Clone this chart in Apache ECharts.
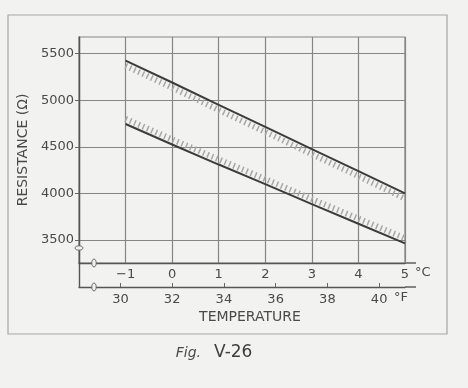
<!DOCTYPE html>
<html><head><meta charset="utf-8">
<script src="https://cdn.jsdelivr.net/npm/echarts@6/dist/echarts.min.js"></script>
<style>html,body{margin:0;padding:0;background:#f2f2f0}#c{width:468px;height:388px}</style>
</head><body><div id="c"></div>
<script>
// Data
const celsius = [-1, 0, 1, 2, 3, 4, 5];
const upperOhm = [5425, 5190, 4950, 4715, 4475, 4240, 4000];
const lowerOhm = [4745, 4525, 4310, 4100, 3885, 3675, 3465];
const yTicks = [3500, 4000, 4500, 5000, 5500];
const fTicks = [30, 32, 34, 36, 38, 40];
const yName = 'RESISTANCE (Ω)';
const xName = 'TEMPERATURE';

const Y_MIN = 3254, Y_MAX = 5678, HATCH = 55;
const FONT = 'DejaVu Sans';
const INK = '#4a4a4a', GRIDC = '#858585';

const pairs = arr => celsius.map((c, i) => [c, arr[i]]);

const chart = echarts.init(document.getElementById('c'), null, {renderer: 'canvas'});
chart.setOption({
  backgroundColor: '#f2f2f0',
  animation: false,
  textStyle: {fontFamily: FONT, color: INK},
  grid: [
    {left: 79, top: 37, width: 326, height: 226, show: true, borderColor: GRIDC, borderWidth: 1.2, containLabel: false},
    {left: 79, top: 263, width: 326, height: 24, containLabel: false}
  ],
  xAxis: [
    {
      type: 'value', gridIndex: 0, min: -2, max: 5, interval: 1,
      axisLine: {show: true, onZero: false, lineStyle: {color: '#555', width: 1.4}},
      axisTick: {show: false},
      splitLine: {show: true, lineStyle: {color: GRIDC, width: 1.2}},
      axisLabel: {
        margin: 5, fontSize: 13, color: INK, fontFamily: FONT,
        formatter: v => v === -2 ? '' : (v < 0 ? '\u2212' + Math.abs(v) : String(v))
      }
    },
    {
      type: 'value', gridIndex: 1, min: 28.4, max: 41,
      axisLine: {show: true, onZero: false, lineStyle: {color: '#555', width: 1.4}},
      axisTick: {show: true, inside: true, length: 4, customValues: fTicks, lineStyle: {color: '#666'}},
      splitLine: {show: false},
      axisLabel: {margin: 6, fontSize: 13, color: INK, fontFamily: FONT, customValues: fTicks, formatter: v => String(v)}
    }
  ],
  yAxis: [
    {
      type: 'value', gridIndex: 0, min: Y_MIN, max: Y_MAX,
      axisLine: {show: true, onZero: false, lineStyle: {color: '#555', width: 1.4}},
      axisTick: {show: true, length: 4, customValues: yTicks, lineStyle: {color: '#666'}},
      splitLine: {show: true, lineStyle: {color: GRIDC, width: 1.2}},
      axisLabel: {margin: 5, fontSize: 13, color: INK, fontFamily: FONT, customValues: yTicks, formatter: v => String(v)},
      name: yName, nameLocation: 'middle', nameGap: 48, nameRotate: 90,
      nameTextStyle: {fontSize: 14, color: INK, fontFamily: FONT}
    },
    {
      type: 'value', gridIndex: 1, min: 0, max: 1,
      axisLine: {show: true, onZero: false, lineStyle: {color: '#555', width: 1.4}},
      axisTick: {show: false}, axisLabel: {show: false}, splitLine: {show: false}
    },
    {type: 'value', gridIndex: 0, show: false, min: Y_MIN + HATCH, max: Y_MAX + HATCH, splitLine: {show: false}},
    {type: 'value', gridIndex: 0, show: false, min: Y_MIN - HATCH, max: Y_MAX - HATCH, splitLine: {show: false}}
  ],
  series: [
    {
      type: 'line', xAxisIndex: 0, yAxisIndex: 2, data: pairs(upperOhm), symbol: 'none', z: 2,
      lineStyle: {color: '#a6a6a6', width: 6, type: [1.5, 3.2]}
    },
    {
      type: 'line', xAxisIndex: 0, yAxisIndex: 3, data: pairs(lowerOhm), symbol: 'none', z: 2,
      lineStyle: {color: '#a6a6a6', width: 6, type: [1.5, 3.2]}
    },
    {
      type: 'line', xAxisIndex: 0, yAxisIndex: 0, data: pairs(upperOhm), symbol: 'none', z: 3,
      lineStyle: {color: '#3c3c3c', width: 2}
    },
    {
      type: 'line', xAxisIndex: 0, yAxisIndex: 0, data: pairs(lowerOhm), symbol: 'none', z: 3,
      lineStyle: {color: '#3c3c3c', width: 2}
    }
  ],
  graphic: [
    {type: 'rect', shape: {x: 8, y: 15, width: 439, height: 319}, style: {fill: null, stroke: '#a5a5a5', lineWidth: 1.2}, z: 0},
    {type: 'line', shape: {x1: 405, y1: 263, x2: 416, y2: 263}, style: {stroke: '#555', lineWidth: 1.4}},
    {type: 'line', shape: {x1: 405, y1: 287, x2: 416, y2: 287}, style: {stroke: '#555', lineWidth: 1.4}},
    {type: 'ellipse', shape: {cx: 79, cy: 248, rx: 4, ry: 2.2}, style: {fill: '#f2f2f0', stroke: '#666', lineWidth: 1}, z: 10},
    {type: 'ellipse', shape: {cx: 94, cy: 263, rx: 2.2, ry: 4}, style: {fill: '#f2f2f0', stroke: '#666', lineWidth: 1}, z: 10},
    {type: 'ellipse', shape: {cx: 94, cy: 287, rx: 2.2, ry: 4}, style: {fill: '#f2f2f0', stroke: '#666', lineWidth: 1}, z: 10},
    {type: 'text', x: 415, y: 273, style: {text: '°C', font: '13px "DejaVu Sans"', fill: INK, align: 'left', verticalAlign: 'middle'}},
    {type: 'text', x: 394, y: 298, style: {text: '°F', font: '13px "DejaVu Sans"', fill: INK, align: 'left', verticalAlign: 'middle'}},
    {type: 'text', x: 250, y: 317, style: {text: xName, font: '14px "DejaVu Sans"', fill: INK, align: 'center', verticalAlign: 'middle'}},
    {type: 'text', x: 201, y: 353, style: {text: 'Fig.', font: 'italic 14px "DejaVu Sans"', fill: INK, align: 'right', verticalAlign: 'middle'}},
    {type: 'text', x: 214, y: 353, style: {text: 'V-26', font: '17px "DejaVu Sans"', fill: '#3e3e3e', align: 'left', verticalAlign: 'middle'}}
  ]
});
</script></body></html>
